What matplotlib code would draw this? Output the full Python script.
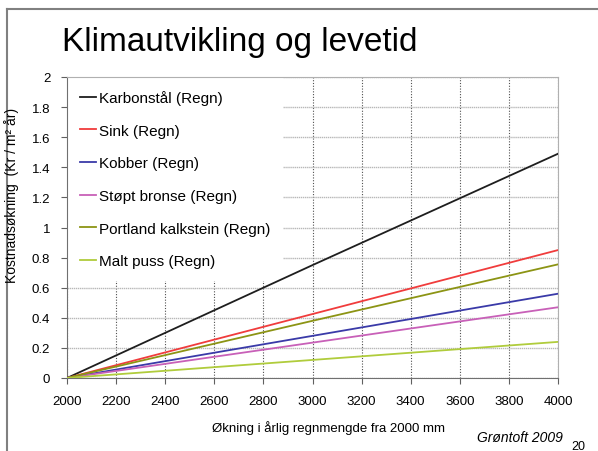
import matplotlib
matplotlib.use("Agg")
import matplotlib.pyplot as plt
from matplotlib.lines import Line2D

plt.rcParams['font.family'] = ['Liberation Sans', 'DejaVu Sans']

# Rainfall increase (mm) and cost increase per material
rain = [2000, 3000, 4000]
series_names = ["Karbonstål (Regn)", "Sink (Regn)", "Kobber (Regn)",
                "Støpt bronse (Regn)", "Portland kalkstein (Regn)", "Malt puss (Regn)"]
karbonstal = [0.0, 0.75, 1.49]
sink = [0.0, 0.425, 0.85]
kobber = [0.0, 0.28, 0.56]
stopt_bronse = [0.0, 0.235, 0.47]
portland = [0.0, 0.38, 0.755]
malt_puss = [0.0, 0.12, 0.24]
series_values = [karbonstal, sink, kobber, stopt_bronse, portland, malt_puss]
colors = ["#1e1e1e", "#f03c3c", "#3a3aa8", "#c860b8", "#8c9414", "#b0cc3c"]

x_ticks = list(range(2000, 4001, 200))
y_ticks = [0, 0.2, 0.4, 0.6, 0.8, 1, 1.2, 1.4, 1.6, 1.8, 2]
y_labels = ["0", "0.2", "0.4", "0.6", "0.8", "1", "1.2", "1.4", "1.6", "1.8", "2"]

W, H = 598, 452
fig = plt.figure(figsize=(W / 100, H / 100), dpi=100)

# slide frame
fig.add_artist(Line2D([7 / W, 7 / W], [0, 1 - 10 / H], color="#808080", lw=1.5))
fig.add_artist(Line2D([7 / W, 1], [1 - 10 / H, 1 - 10 / H], color="#808080", lw=1.5))

fig.text(62 / W, 1 - 42 / H, "Klimautvikling og levetid", fontsize=24,
         ha="left", va="center", color="black")

ax = fig.add_axes([67 / W, 1 - 379 / H, (558 - 67) / W, (379 - 78) / H])
for name, vals, c in zip(series_names, series_values, colors):
    ax.plot(rain, vals, color=c, lw=1.3, label=name, zorder=3)

ax.set_xlim(2000, 4000)
ax.set_ylim(0, 2)
ax.set_xticks(x_ticks)
ax.set_xticklabels([str(v) for v in x_ticks], fontsize=9.5)
ax.set_yticks(y_ticks)
ax.set_yticklabels(y_labels, fontsize=9.5)
ax.tick_params(direction="out", length=4, color="#606060", pad=8)

ax.yaxis.grid(True, color="#b8b8b8", lw=1.0, linestyle=(0, (1, 0.5)))
ax.xaxis.grid(True, color="#505050", lw=0.8, linestyle=(0, (1, 1.5)))
ax.set_axisbelow(True)
for s in ["left", "bottom"]:
    ax.spines[s].set_color("#707070")
for s in ["right", "top"]:
    ax.spines[s].set_color("#b0b0b0")

leg = ax.legend(loc="upper left", bbox_to_anchor=(0.0, 1.0), frameon=True,
                fontsize=11, handlelength=1.05, handletextpad=0.2,
                labelspacing=1.22, borderpad=0.85, borderaxespad=0.0,
                fancybox=False)
leg.get_frame().set_edgecolor("none")
leg.get_frame().set_facecolor("white")
leg.get_frame().set_alpha(1.0)
leg.set_zorder(2)

fig.text(12 / W, 1 - 195 / H, "Kostnadsøkning  (Kr / m² år)", rotation=90,
         fontsize=10, ha="center", va="center")
fig.text(329 / W, 1 - 428 / H, "Økning i årlig regnmengde fra 2000 mm",
         fontsize=9.5, ha="center", va="center")
fig.text(520 / W, 1 - 438 / H, "Grøntoft 2009", fontsize=10, style="italic",
         ha="center", va="center")
fig.text(578 / W, 1 - 447 / H, "20", fontsize=9, ha="center", va="center")

fig.savefig("out.png", dpi=100)
